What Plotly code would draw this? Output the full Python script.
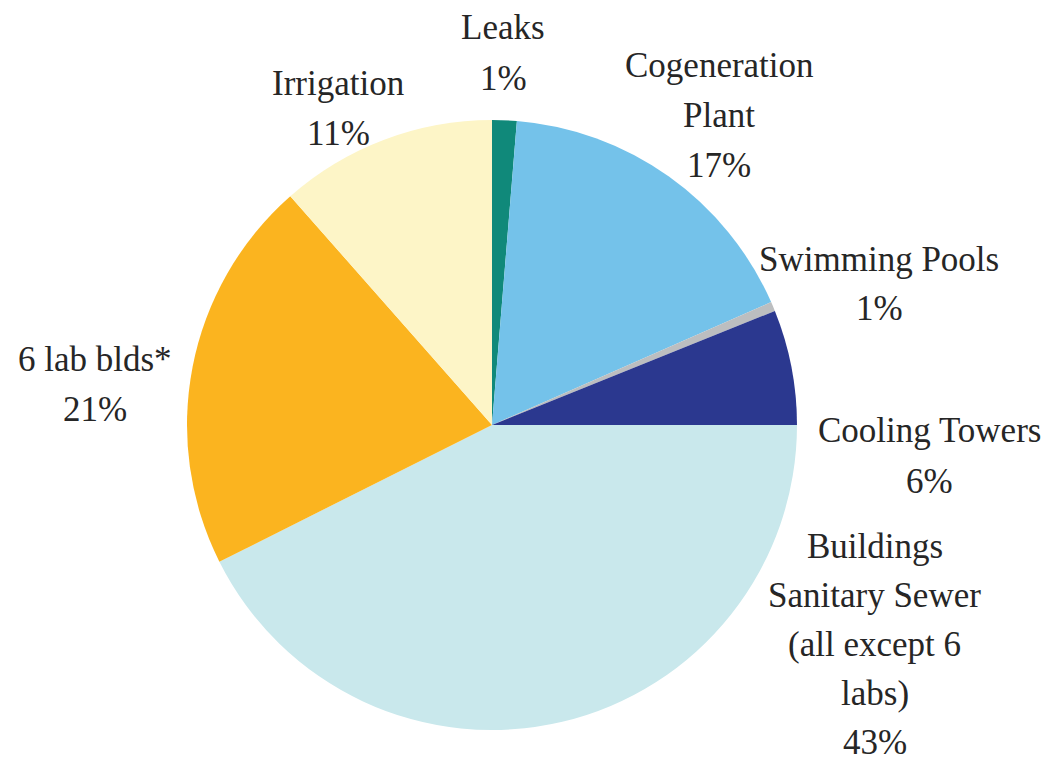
import plotly.graph_objects as go

# ---- data ----
categories = ["Leaks", "Cogeneration Plant", "Swimming Pools", "Cooling Towers",
              "Buildings Sanitary Sewer (all except 6 labs)", "6 lab blds*", "Irrigation"]
values = [1.3, 17.1, 0.5, 6.1, 42.6, 20.9, 11.5]
percent_labels = ["1%", "17%", "1%", "6%", "43%", "21%", "11%"]
label_lines = [
    ["Leaks"],
    ["Cogeneration", "Plant"],
    ["Swimming Pools"],
    ["Cooling Towers"],
    ["Buildings", "Sanitary Sewer", "(all except 6", "labs)"],
    ["6 lab blds*"],
    ["Irrigation"],
]
colors = ["#10897a", "#74c2ea", "#bcbec0", "#2b388f", "#c9e8ec", "#fbb41f", "#fdf5c7"]

# ---- layout / styling ----
W, H = 1051, 762
CX, CY, R = 492, 425, 305
# label anchor: (x centre, y of first line centre, line step) in pixels from top-left
label_pos = [(503, 27, 50), (719, 64, 50), (879, 258, 50), (929, 430, 50),
             (875, 545, 49), (95, 358, 50), (338, 82, 50)]
FONT = dict(family="'Liberation Serif'", size=35, color="#262626")

fig = go.Figure(go.Pie(
    labels=categories,
    values=values,
    sort=False,
    direction="clockwise",
    rotation=0,
    marker=dict(colors=colors, line=dict(width=0)),
    textinfo="none",
    hoverinfo="label+percent",
    domain=dict(x=[(CX - R) / W, (CX + R) / W],
                y=[(H - CY - R) / H, (H - CY + R) / H]),
))

annotations = []
for lines, pct, (px, py, step) in zip(label_lines, percent_labels, label_pos):
    for i, txt in enumerate(lines + [pct]):
        y = py + i * step + 1
        annotations.append(dict(
            x=px / W, y=1 - y / H, xref="paper", yref="paper",
            text=txt, showarrow=False, xanchor="center", yanchor="middle",
            font=FONT,
        ))

fig.update_layout(
    width=W, height=H,
    margin=dict(l=0, r=0, t=0, b=0),
    paper_bgcolor="white", plot_bgcolor="white",
    showlegend=False,
    annotations=annotations,
)

fig.write_html("out.html")
